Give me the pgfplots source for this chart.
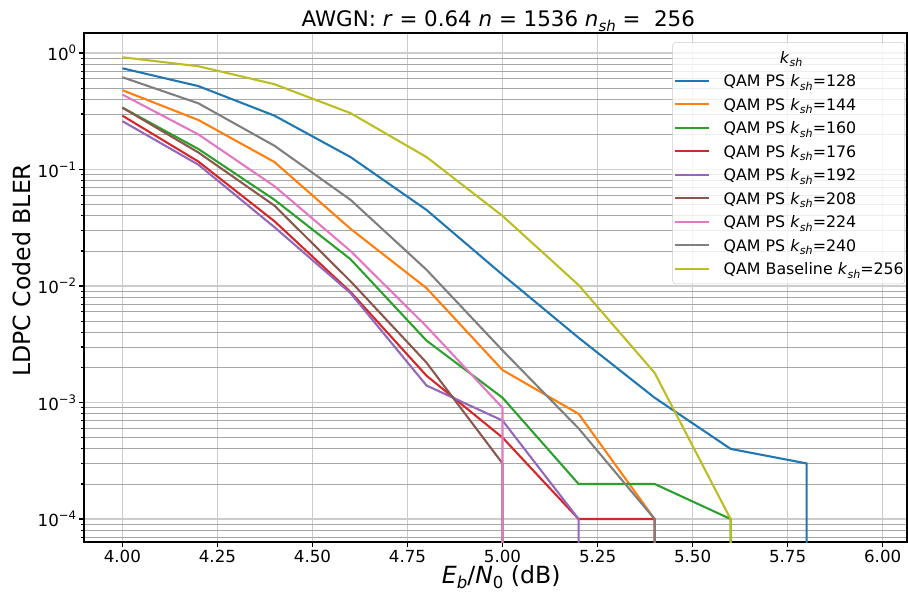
\documentclass[border=0pt]{standalone}
\usepackage{fontspec}
\setmainfont{DejaVu Sans}
\usepackage{graphicx}
\usepackage{pgfplots}
\pgfplotsset{compat=1.18}

\definecolor{c0}{HTML}{1F77B4}
\definecolor{c1}{HTML}{FF7F0E}
\definecolor{c2}{HTML}{2CA02C}
\definecolor{c3}{HTML}{D62728}
\definecolor{c4}{HTML}{9467BD}
\definecolor{c5}{HTML}{8C564B}
\definecolor{c6}{HTML}{E377C2}
\definecolor{c7}{HTML}{7F7F7F}
\definecolor{c8}{HTML}{BCBD22}

% mathtext-like sub/superscripts, 0.7 of the current size
\newcommand{\subs}[1]{\raisebox{-0.22em}{\scalebox{0.7}{#1}}}
\newcommand{\sups}[1]{\raisebox{0.42em}{\scalebox{0.7}{#1}}}
\newcommand{\sh}[1]{\textit{#1}\subs{\textit{sh}}}

\begin{document}
\begin{tikzpicture}
\begin{axis}[
    scale only axis,
    width=592.56pt, height=366.48pt,
    xmin=3.899, xmax=6.064,
    ymode=log, ymin=6.35e-5, ymax=1.486,
    xtick={4,4.25,4.5,4.75,5,5.25,5.5,5.75,6},
    xticklabel style={inner ysep=2.5pt, /pgf/number format/.cd, fixed, fixed zerofill, precision=2, assume math mode=true},
    ytick={1e-4,1e-3,1e-2,1e-1,1},
    yticklabels={10\sups{−4},10\sups{−3},10\sups{−2},10\sups{−1},10\sups{0}},
    yticklabel style={inner xsep=2pt},
    minor ytick={7e-5,8e-5,9e-5,
        2e-4,3e-4,4e-4,5e-4,6e-4,7e-4,8e-4,9e-4,
        2e-3,3e-3,4e-3,5e-3,6e-3,7e-3,8e-3,9e-3,
        2e-2,3e-2,4e-2,5e-2,6e-2,7e-2,8e-2,9e-2,
        0.2,0.3,0.4,0.5,0.6,0.7,0.8,0.9},
    tick label style={font=\fontsize{12}{14}\selectfont},
    xmajorgrids, ymajorgrids, yminorgrids,
    major grid style={black!20, line width=0.8pt},
    minor grid style={black!35, line width=0.6pt},
    axis line style={black, line width=0.8pt},
    tick align=outside, xtick pos=bottom, ytick pos=left,
    major tick length=3.5pt, minor tick length=2pt,
    tick style={black, line width=0.8pt},
    title={AWGN: \textit{r} = 0.64 \textit{n} = 1536 \sh{n} =\ \ 256},
    title style={font=\fontsize{15.4}{18}\selectfont, at={(0.5,1)}, anchor=base, yshift=-1.4pt, xshift=2pt, inner sep=0pt},
    xlabel={\textit{E}\subs{\textit{b}}/\textit{N}\subs{0} (dB)},
    xlabel style={font=\fontsize{17}{20}\selectfont, at={(axis description cs:0.507,-0.0697)}, anchor=center},
    ylabel={LDPC Coded BLER},
    ylabel style={font=\fontsize{17}{20}\selectfont, at={(axis description cs:-0.0753,0.534)}, anchor=center},
    legend cell align=left,
    legend image code/.code={\draw[#1] (0pt,0pt) -- (24.5pt,0pt);},
    legend style={at={(0.9976,0.982)}, anchor=north east,
        draw=black!20, fill=white, fill opacity=0.8, text opacity=1,
        rounded corners=2pt, inner xsep=0.7pt, inner ysep=2.4pt,
        font=\fontsize{11.4}{14}\selectfont, row sep=0pt,
        nodes={inner xsep=0pt, inner ysep=0pt, text height=12.7pt, text depth=4.2pt},
        /tikz/every odd column/.append style={column sep=10pt}},
]
\addlegendimage{empty legend}
\addlegendentry{\hspace*{40.5pt}\sh{k}}

% k_sh = 128
\addplot[c0, line width=1.5pt] coordinates {
    (4.0,0.74) (4.2,0.52) (4.4,0.29) (4.6,0.128) (4.8,0.045) (5.0,0.0125)
    (5.2,0.0036) (5.4,0.0011) (5.6,4e-4) (5.8,3e-4) (5.8,1e-9)};
\addlegendentry{QAM PS \sh{k}=128}
% k_sh = 144
\addplot[c1, line width=1.5pt] coordinates {
    (4.0,0.48) (4.2,0.266) (4.4,0.116) (4.6,0.031) (4.8,0.0096) (5.0,0.0019)
    (5.2,8e-4) (5.4,1e-4) (5.4,1e-9)};
\addlegendentry{QAM PS \sh{k}=144}
% k_sh = 160
\addplot[c2, line width=1.5pt] coordinates {
    (4.0,0.34) (4.2,0.15) (4.4,0.055) (4.6,0.017) (4.8,0.0034) (5.0,0.0011)
    (5.2,2e-4) (5.4,2e-4) (5.6,1e-4) (5.6,1e-9)};
\addlegendentry{QAM PS \sh{k}=160}
% k_sh = 176
\addplot[c3, line width=1.5pt] coordinates {
    (4.0,0.29) (4.2,0.117) (4.4,0.036) (4.6,0.0089) (4.8,0.0017) (5.0,5e-4)
    (5.2,1e-4) (5.4,1e-4) (5.4,1e-9)};
\addlegendentry{QAM PS \sh{k}=176}
% k_sh = 192
\addplot[c4, line width=1.5pt] coordinates {
    (4.0,0.26) (4.2,0.11) (4.4,0.032) (4.6,0.0087) (4.8,0.0014) (5.0,7e-4)
    (5.2,1e-4) (5.2,1e-9)};
\addlegendentry{QAM PS \sh{k}=192}
% k_sh = 208
\addplot[c5, line width=1.5pt] coordinates {
    (4.0,0.34) (4.2,0.14) (4.4,0.049) (4.6,0.011) (4.8,0.0022) (5.0,3e-4)
    (5.0,1e-9)};
\addlegendentry{QAM PS \sh{k}=208}
% k_sh = 224
\addplot[c6, line width=1.5pt] coordinates {
    (4.0,0.44) (4.2,0.2) (4.4,0.072) (4.6,0.02) (4.8,0.0045) (5.0,9e-4)
    (5.0,1e-9)};
\addlegendentry{QAM PS \sh{k}=224}
% k_sh = 240
\addplot[c7, line width=1.5pt] coordinates {
    (4.0,0.62) (4.2,0.37) (4.4,0.16) (4.6,0.055) (4.8,0.0138) (5.0,0.0028)
    (5.2,6e-4) (5.4,1e-4) (5.4,1e-9)};
\addlegendentry{QAM PS \sh{k}=240}
% baseline k_sh = 256
\addplot[c8, line width=1.5pt] coordinates {
    (4.0,0.92) (4.2,0.77) (4.4,0.54) (4.6,0.305) (4.8,0.128) (5.0,0.04)
    (5.2,0.0102) (5.4,0.0018) (5.6,1e-4) (5.6,1e-9)};
\addlegendentry{QAM Baseline \sh{k}=256}
\end{axis}
\path ([shift={(-60.48pt,-35.28pt)}]current axis.south west) rectangle ([shift={(0.72pt,23.76pt)}]current axis.north east);
\end{tikzpicture}
\end{document}
